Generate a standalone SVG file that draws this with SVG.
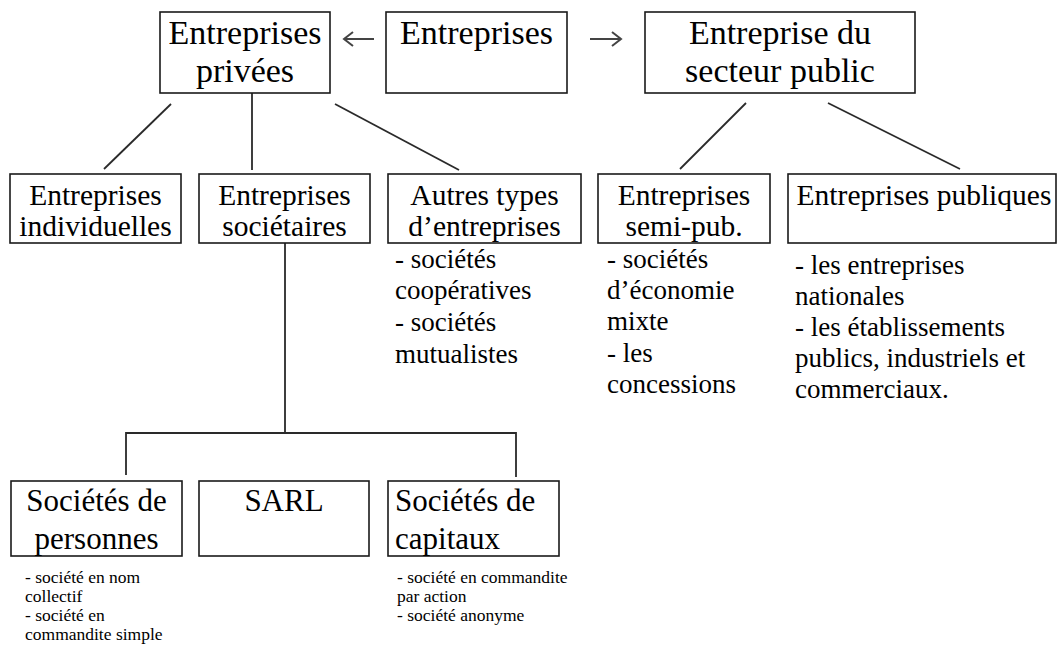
<svg xmlns="http://www.w3.org/2000/svg" width="1058" height="648" viewBox="0 0 1058 648">
<style>
.box{fill:#fff;stroke:#1a1a1a;stroke-width:1.6}
.t{font-family:'Times New Roman',Times,'Liberation Serif','Noto Serif','DejaVu Serif',FreeSerif,serif;fill:#000}
.t1{font-size:34px;text-anchor:middle}
.t2{font-size:29.5px;text-anchor:middle}
.t3{font-size:31px;text-anchor:middle}
.l{font-size:27px}
.s{font-size:17.5px}
.c{fill:none;stroke:#2a2a2a;stroke-width:1.8}
.ar{fill:none;stroke:#444;stroke-width:2}
</style>
<rect width="1058" height="648" fill="#fff"/>
<g id="connectors">
<path class="ar" d="M374 39H344M353 32L344 39L353 46"/>
<path class="ar" d="M590 39H621M612 32L621 39L612 46"/>
<line class="c" x1="171" y1="104" x2="104" y2="169"/>
<line class="c" x1="252" y1="93" x2="252" y2="170"/>
<line class="c" x1="335" y1="104" x2="459" y2="170"/>
<line class="c" x1="746" y1="103" x2="680" y2="169"/>
<line class="c" x1="828" y1="103" x2="960" y2="169"/>
<path class="c" d="M285 243V433M126 475V433H516V477"/>
</g>
<g id="n-privees">
<rect class="box" x="160" y="12" width="170" height="81"/>
<text class="t t1" x="245" y="44">Entreprises</text>
<text class="t t1" x="245" y="82">privées</text>
</g>
<g id="n-entreprises">
<rect class="box" x="386" y="12" width="181" height="81"/>
<text class="t t1" x="476.5" y="44">Entreprises</text>
</g>
<g id="n-public">
<rect class="box" x="645" y="12" width="270" height="81"/>
<text class="t t1" x="780" y="44">Entreprise du</text>
<text class="t t1" x="780" y="82">secteur public</text>
</g>
<g id="n-individuelles">
<rect class="box" x="10" y="174" width="171" height="69"/>
<text class="t t2" x="95.5" y="205">Entreprises</text>
<text class="t t2" x="95.5" y="236">individuelles</text>
</g>
<g id="n-societaires">
<rect class="box" x="199" y="174" width="171" height="69"/>
<text class="t t2" x="284.5" y="205">Entreprises</text>
<text class="t t2" x="284.5" y="236">sociétaires</text>
</g>
<g id="n-autres">
<rect class="box" x="388" y="174" width="193" height="69"/>
<text class="t t2" x="484.5" y="205">Autres types</text>
<text class="t t2" x="484.5" y="236">d’entreprises</text>
<text class="t l" x="395" y="268">- sociétés</text>
<text class="t l" x="395" y="299">coopératives</text>
<text class="t l" x="395" y="331">- sociétés</text>
<text class="t l" x="395" y="363">mutualistes</text>
</g>
<g id="n-semipub">
<rect class="box" x="598" y="174" width="172" height="69"/>
<text class="t t2" x="684" y="205">Entreprises</text>
<text class="t t2" x="684" y="236">semi-pub.</text>
<text class="t l" x="607" y="268">- sociétés</text>
<text class="t l" x="607" y="299">d’économie</text>
<text class="t l" x="607" y="330">mixte</text>
<text class="t l" x="607" y="362">- les</text>
<text class="t l" x="607" y="393">concessions</text>
</g>
<g id="n-publiques">
<rect class="box" x="788" y="174" width="268" height="69"/>
<text class="t t2" x="924" y="205">Entreprises publiques</text>
<text class="t l" x="795" y="274">- les entreprises</text>
<text class="t l" x="795" y="305">nationales</text>
<text class="t l" x="795" y="336">- les établissements</text>
<text class="t l" x="795" y="367">publics, industriels et</text>
<text class="t l" x="795" y="398">commerciaux.</text>
</g>
<g id="n-personnes">
<rect class="box" x="11" y="481" width="171" height="75"/>
<text class="t t3" x="96.5" y="511">Sociétés de</text>
<text class="t t3" x="96.5" y="549">personnes</text>
<text class="t s" x="25" y="583">- société en nom</text>
<text class="t s" x="25" y="602">collectif</text>
<text class="t s" x="25" y="621">- société en</text>
<text class="t s" x="25" y="640">commandite simple</text>
</g>
<g id="n-sarl">
<rect class="box" x="199" y="481" width="170" height="75"/>
<text class="t t3" x="284" y="511">SARL</text>
</g>
<g id="n-capitaux">
<rect class="box" x="388" y="481" width="171" height="75"/>
<text class="t t3" x="395" y="511" style="text-anchor:start">Sociétés de</text>
<text class="t t3" x="395" y="549" style="text-anchor:start">capitaux</text>
<text class="t s" x="397" y="583">- société en commandite</text>
<text class="t s" x="397" y="602">par action</text>
<text class="t s" x="397" y="621">- société anonyme</text>
</g>
</svg>
